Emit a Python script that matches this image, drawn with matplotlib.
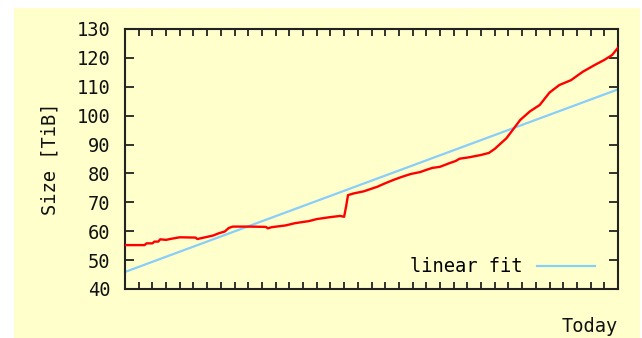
import numpy as np
import matplotlib
matplotlib.use("Agg")
import matplotlib.pyplot as plt
from matplotlib.patches import Rectangle

# daily size of the archive, day 0 = 252 days ago, day 252 = today
days = [0, 10, 11, 14, 15, 17, 18, 21, 23, 28, 36, 37, 39, 45, 48, 51, 53, 55,
        64, 72, 73, 75, 82, 87, 94, 98, 104, 110, 112, 113, 114, 117, 122,
        129, 133, 137, 141, 146, 151, 153, 157, 161, 166, 169, 171, 176, 182,
        186, 189, 195, 202, 207, 212, 217, 222, 228, 234, 240, 245, 249, 252]
size_tib = [55.2, 55.2, 55.8, 55.8, 56.4, 56.4, 57.2, 57.0, 57.3, 57.9, 57.8,
            57.3, 57.6, 58.5, 59.3, 59.9, 61.1, 61.6, 61.6, 61.5, 61.0, 61.4,
            62.0, 62.8, 63.5, 64.2, 64.8, 65.3, 65.0, 68.5, 72.5, 73.1, 73.8,
            75.4, 76.6, 77.7, 78.7, 79.8, 80.5, 81.0, 81.9, 82.3, 83.6, 84.3,
            85.1, 85.6, 86.4, 87.1, 88.5, 92.2, 98.5, 101.5, 103.7, 108.0,
            110.6, 112.3, 115.2, 117.5, 119.3, 121.0, 123.5]

# linear fit, value at first and last day
fit_days = [0, 252]
fit_tib = [45.9, 109.1]

bg = "#ffffcc"
font = "DejaVu Sans Mono"
fs = 13.5

fig = plt.figure(figsize=(6.42, 3.38), dpi=100, facecolor="white")
fig.patches.append(Rectangle((14 / 642, 0), 626 / 642, 330 / 338,
                             transform=fig.transFigure, facecolor=bg,
                             edgecolor="none", zorder=-10))

ax = fig.add_axes([125 / 642, 49 / 338, 493 / 642, 260 / 338])
ax.set_facecolor(bg)

ax.plot(days, size_tib, color="#ff0000", lw=1.7, zorder=3)
ax.plot(fit_days, fit_tib, color="#87cefa", lw=1.6, label="linear fit", zorder=2)

ax.set_xlim(0, 252)
ax.set_ylim(40, 130)
ax.set_xticks(np.arange(0, 253, 7))
ax.set_xticklabels([])
ax.set_yticks(np.arange(40, 131, 10))
ax.set_yticklabels([str(v) for v in range(40, 131, 10)], family=font, fontsize=fs)

ax.tick_params(axis="x", direction="in", top=True, bottom=True, length=5,
               width=1.3, color="#222222")
ax.tick_params(axis="y", direction="in", left=True, right=True, length=6.5,
               width=1.3, color="#222222", pad=10.5, labelcolor="#111111")
for s in ax.spines.values():
    s.set_linewidth(1.5)
    s.set_color("#222222")

ax.set_ylabel("Size [TiB]", family=font, fontsize=fs, labelpad=12, color="#111111")
ax.set_xlabel("Today", family=font, fontsize=fs, loc="right", labelpad=17,
              color="#111111")

leg = ax.legend(loc="center right", bbox_to_anchor=(0.953, 0.085),
                frameon=False, markerfirst=False, handlelength=3.1,
                handletextpad=0.75, borderpad=0, borderaxespad=0,
                prop={"family": font, "size": fs})

fig.savefig("out.png", dpi=100, facecolor="white")
